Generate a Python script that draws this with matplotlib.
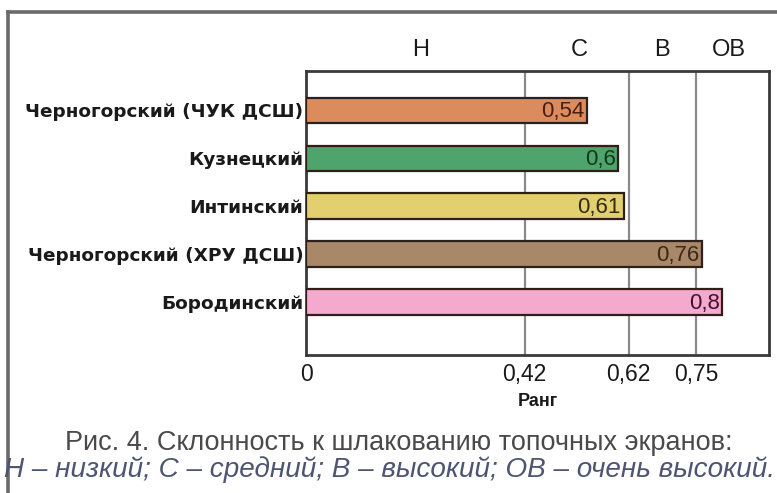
import matplotlib
matplotlib.use("Agg")
import matplotlib.pyplot as plt
from matplotlib.lines import Line2D

# data
plants = ['Черногорский (ЧУК ДСШ)', 'Кузнецкий', 'Интинский',
          'Черногорский (ХРУ ДСШ)', 'Бородинский']
ranks = [0.54, 0.6, 0.61, 0.76, 0.8]
bar_colors = ['#DC8C5C', '#4FA36C', '#E2D06E', '#A98769', '#F5A9CD']
text_colors = ['#4A1E10', '#0E3A18', '#302A10', '#3A2818', '#40102E']
bounds = [0, 0.42, 0.62, 0.75]
bound_labels = ['0', '0,42', '0,62', '0,75']
zones = ['Н', 'С', 'В', 'ОВ']
xmax = 0.89

plt.rcParams['font.family'] = ['Liberation Sans', 'DejaVu Sans']

fig = plt.figure(figsize=(7.77, 4.93), dpi=100)
ax = fig.add_axes([0.394, 0.280, 0.596, 0.576])

ypos = list(range(len(plants)))
ax.barh(ypos, ranks, height=0.53, color=bar_colors, edgecolor='#2E2018',
        linewidth=1.6, zorder=3)

for y, v, tc in zip(ypos, ranks, text_colors):
    ax.text(v - 0.005, y + 0.03, f'{v:g}'.replace('.', ','), ha='right', va='center',
            fontsize=16, color=tc, zorder=4)

# zone boundaries
for b in bounds[1:]:
    ax.axvline(b, color='#8a8a8a', linewidth=1.6, zorder=1)

ax.set_xlim(0, xmax)
ax.set_ylim(len(plants) - 1 + 1.11, -0.825)

ax.set_yticks(ypos)
ax.set_yticklabels(plants, fontsize=13.3, fontweight='bold', color='#1a1a1a',
                   family=['DejaVu Sans'])
ax.set_xticks(bounds)
ax.set_xticklabels(bound_labels, fontsize=16.5, color='#1a1a1a')
ax.tick_params(length=0, pad=6)
ax.tick_params(axis='y', pad=2)
ax.set_xlabel('Ранг', fontsize=13, fontweight='bold', labelpad=5, color='#1a1a1a')

for s in ax.spines.values():
    s.set_linewidth(2)
    s.set_color('#3a3a3a')

# zone letters above the plot, slightly left of each zone's centre
edges = bounds + [xmax]
for i, z in enumerate(zones):
    xc = (edges[i] + edges[i + 1]) / 2 - 0.006 * (i + 1) + 0.016
    ax.text(xc, -1.27, z, ha='center', va='center',
            fontsize=17, color='#1a1a1a', clip_on=False)

# caption
fig.text(0.513, 1 - 443 / 493, 'Рис. 4. Склонность к шлакованию топочных экранов:',
         ha='center', va='center', fontsize=19.5, color='#4a4a4a')
fig.text(0.501, 1 - 470 / 493, 'Н – низкий; С – средний; В – высокий; ОВ – очень высокий.',
         ha='center', va='center', fontsize=20.1, color='#4E5572', style='italic')

# outer frame
fig.add_artist(Line2D([8 / 777, 8 / 777], [0, 1 - 12 / 493], transform=fig.transFigure,
                      color='#6a6a6a', linewidth=2.6))
fig.add_artist(Line2D([8 / 777, 1], [1 - 12 / 493, 1 - 12 / 493], transform=fig.transFigure,
                      color='#6a6a6a', linewidth=2.6))

fig.savefig('out.png', dpi=100)
